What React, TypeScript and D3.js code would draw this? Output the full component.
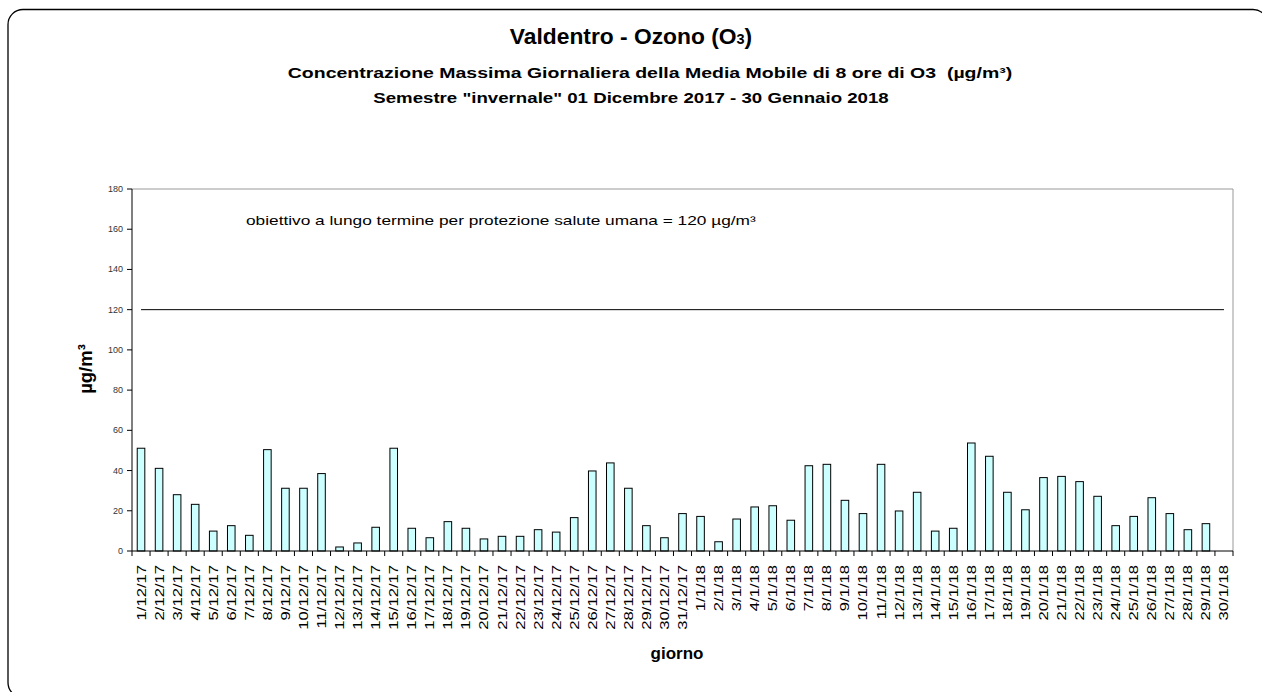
import React from "react";
import * as d3 from "d3";

const days: string[] = [
  "1/12/17","2/12/17","3/12/17","4/12/17","5/12/17","6/12/17","7/12/17","8/12/17","9/12/17","10/12/17",
  "11/12/17","12/12/17","13/12/17","14/12/17","15/12/17","16/12/17","17/12/17","18/12/17","19/12/17","20/12/17",
  "21/12/17","22/12/17","23/12/17","24/12/17","25/12/17","26/12/17","27/12/17","28/12/17","29/12/17","30/12/17",
  "31/12/17","1/1/18","2/1/18","3/1/18","4/1/18","5/1/18","6/1/18","7/1/18","8/1/18","9/1/18",
  "10/1/18","11/1/18","12/1/18","13/1/18","14/1/18","15/1/18","16/1/18","17/1/18","18/1/18","19/1/18",
  "20/1/18","21/1/18","22/1/18","23/1/18","24/1/18","25/1/18","26/1/18","27/1/18","28/1/18","29/1/18",
  "30/1/18",
];

const ozone: (number | null)[] = [
  51.1, 41.1, 28.0, 23.2, 9.9, 12.6, 7.8, 50.4, 31.2, 31.2,
  38.5, 2.0, 4.0, 11.8, 51.1, 11.3, 6.6, 14.6, 11.3, 6.0,
  7.3, 7.3, 10.6, 9.4, 16.6, 39.8, 43.8, 31.2, 12.6, 6.6,
  18.6, 17.2, 4.6, 15.9, 21.9, 22.5, 15.3, 42.4, 43.1, 25.2,
  18.6, 43.1, 19.9, 29.2, 9.9, 11.3, 53.7, 47.1, 29.2, 20.5,
  36.5, 37.1, 34.5, 27.2, 12.6, 17.2, 26.5, 18.6, 10.6, 13.6,
  null,
];

const target = 120;
const yTicks: number[] = [0, 20, 40, 60, 80, 100, 120, 140, 160, 180];

const W = 1262;
const H = 692;
const FONT = "'Liberation Sans', Arial, Helvetica, sans-serif";

function stretch(cx: number, cy: number, s: number) {
  return `translate(${cx},${cy}) scale(${s},1) translate(${-cx},${-cy})`;
}

export default function App() {
  const left = 132, right = 1233, top = 189, bottom = 551;
  const x = d3.scaleBand<string>().domain(days).range([left, right]).padding(0);
  const y = d3.scaleLinear().domain([0, 180]).range([bottom, top]);
  const bw = x.bandwidth();
  const barW = bw * 0.42;
  const firstC = (x(days[0]) as number) + bw / 2;
  const lastC = (x(days[days.length - 1]) as number) + bw / 2;

  return (
    <svg width={W} height={H} style={{ position: "absolute", left: 0, top: 0, fontFamily: FONT }}>
      <rect x={0} y={0} width={W} height={H} fill="#fff" />
      <rect x={8} y={9.5} width={1260} height={688} rx={15} ry={15} fill="none" stroke="#000" strokeWidth={1.3} />

      {/* titles */}
      <text x={631} y={44} textAnchor="middle" fontWeight="bold" fontSize={22.8} fill="#000">
        Valdentro - Ozono (O<tspan fontSize={14.5}>3</tspan>)
      </text>
      <text x={650} y={78} textAnchor="middle" fontWeight="bold" fontSize={15} fill="#000"
        transform={stretch(650, 78, 1.3)} style={{ whiteSpace: "pre" }}>
        {"Concentrazione Massima Giornaliera della Media Mobile di 8 ore di O3  (µg/m³)"}
      </text>
      <text x={631} y={103} textAnchor="middle" fontWeight="bold" fontSize={15} fill="#000"
        transform={stretch(631, 103, 1.245)}>
        Semestre "invernale" 01 Dicembre 2017 - 30 Gennaio 2018
      </text>

      {/* plot frame */}
      <line x1={left} x2={right} y1={top} y2={top} stroke="#999" strokeWidth={1} />
      <line x1={right} x2={right} y1={top} y2={bottom} stroke="#999" strokeWidth={1} />

      {/* bars */}
      {ozone.map((v, i) =>
        v == null ? null : (
          <rect
            key={i}
            x={(x(days[i]) as number) + (bw - barW) / 2}
            y={y(v)}
            width={barW}
            height={bottom - y(v)}
            fill="#CCFFFF"
            stroke="#000"
            strokeWidth={1}
          />
        )
      )}

      {/* target line */}
      <line x1={firstC} x2={lastC} y1={y(target)} y2={y(target)} stroke="#000" strokeWidth={1} />
      <text x={246} y={225} fontSize={13} fill="#000" transform={stretch(246, 225, 1.33)}>
        obiettivo a lungo termine per protezione salute umana = 120 µg/m³
      </text>

      {/* axes */}
      <line x1={left} x2={left} y1={top} y2={bottom} stroke="#000" strokeWidth={1} />
      <line x1={left} x2={right} y1={bottom} y2={bottom} stroke="#000" strokeWidth={1} />
      {yTicks.map((t) => (
        <g key={t}>
          <line x1={left - 5} x2={left} y1={y(t)} y2={y(t)} stroke="#000" />
          <text x={123} y={y(t) + 3} textAnchor="end" fontSize={9} fill="#333">{t}</text>
        </g>
      ))}
      {days.map((d, i) => (
        <line key={"t" + i} x1={x(d) as number} x2={x(d) as number} y1={bottom} y2={bottom + 5} stroke="#000" />
      ))}
      <line x1={right} x2={right} y1={bottom} y2={bottom + 5} stroke="#000" />
      {days.map((d) => {
        const cx = (x(d) as number) + bw / 2 + 4.5;
        return (
          <text
            key={"l" + d}
            transform={`translate(${cx},565) rotate(-90) scale(1.33,1)`}
            textAnchor="end"
            fontSize={12.5}
            fill="#000"
          >
            {d}
          </text>
        );
      })}

      <text transform="translate(92,369) rotate(-90)" textAnchor="middle" fontWeight="bold" fontSize={18.5} fill="#000">
        µg/m³
      </text>
      <text x={677} y={659} textAnchor="middle" fontWeight="bold" fontSize={17} fill="#000">
        giorno
      </text>
    </svg>
  );
}
